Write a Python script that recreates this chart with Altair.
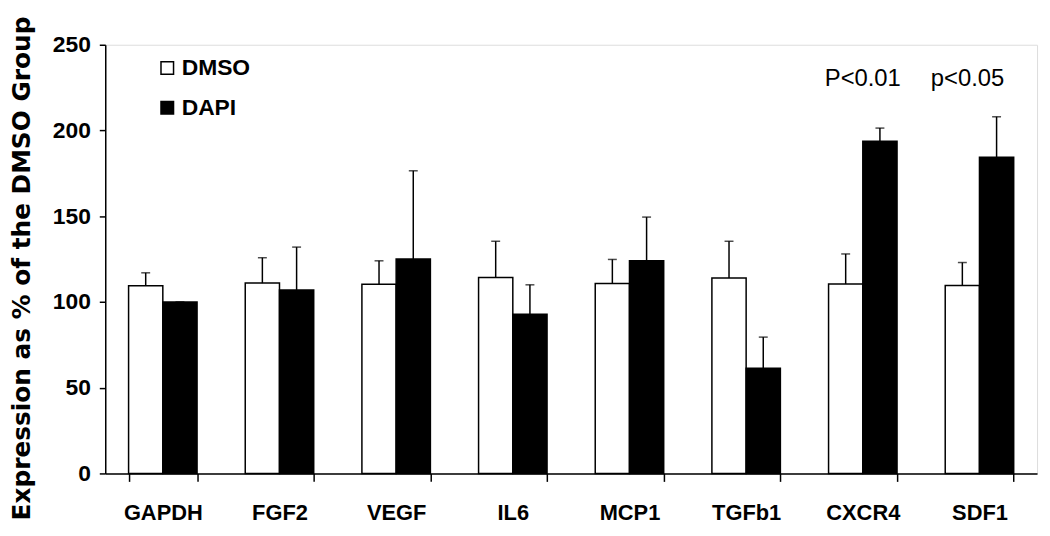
import altair as alt
import pandas as pd

genes = ["GAPDH", "FGF2", "VEGF", "IL6", "MCP1", "TGFb1", "CXCR4", "SDF1"]
groups = ["DMSO", "DAPI"]
dmso = [109.5, 111, 110.3, 114.2, 110.7, 114, 110.5, 109.6]
dmso_err = [117, 125.8, 124, 135.4, 124.8, 135.4, 128, 123]
dapi = [100, 107, 125, 92.8, 124, 61.3, 193.7, 184.4]
dapi_err = [100, 132, 176.5, 110, 149.5, 79.5, 201.4, 208]
annot_text = ["P<0.01", "p<0.05"]
annot_gene = ["CXCR4", "SDF1"]
annot_y = [230, 230]

rows = []
for i, g in enumerate(genes):
    rows.append({"gene": g, "group": "DMSO", "value": dmso[i], "err": dmso_err[i]})
    rows.append({"gene": g, "group": "DAPI", "value": dapi[i], "err": dapi_err[i]})
df = pd.DataFrame(rows)

LBL = "Liberation Sans, Arial, sans-serif"

x = alt.X(
    "gene:N",
    sort=genes,
    scale=alt.Scale(paddingInner=0.413),
    axis=alt.Axis(
        title=None,
        labelAngle=0,
        labelFont=LBL,
        labelFontWeight="bold",
        labelFontSize=22,
        labelColor="black",
        labelPadding=21,
        tickBand="extent",
        tickSize=8,
        tickColor="black",
        tickWidth=1.5,
        domainColor="black",
        domainWidth=1.5,
    ),
)
xoff = alt.XOffset("group:N", sort=groups, scale=alt.Scale(domain=groups, paddingInner=0, paddingOuter=0))
y = alt.Y(
    "value:Q",
    scale=alt.Scale(domain=[0, 250], nice=False),
    axis=alt.Axis(
        title="Expression as % of the DMSO Group",
        titleFont="DejaVu Sans",
        titleFontWeight="bold",
        titleFontSize=25,
        titleColor="black",
        titleAngle=-90,
        titleX=-84,
        titleY=225,
        titleAlign="center",
        titleBaseline="middle",
        values=[0, 50, 100, 150, 200, 250],
        labelFont=LBL,
        labelFontWeight="bold",
        labelFontSize=23,
        labelColor="black",
        labelPadding=9,
        tickSize=6,
        tickColor="black",
        tickWidth=1.5,
        domainColor="black",
        domainWidth=1.5,
        grid=False,
    ),
)

bars = alt.Chart(df).mark_bar(stroke="black", strokeWidth=1.5).encode(
    x=x,
    xOffset=xoff,
    y=y,
    fill=alt.Fill(
        "group:N",
        sort=groups,
        scale=alt.Scale(domain=groups, range=["white", "black"]),
        legend=alt.Legend(
            title=None,
            orient="none",
            legendX=51,
            legendY=12,
            symbolType="square",
            symbolSize=160,
            symbolStrokeColor="black",
            symbolStrokeWidth=1.5,
            labelFont=LBL,
            labelFontWeight="bold",
            labelFontSize=23,
            labelColor="black",
            labelOffset=3,
            rowPadding=16,
        ),
    ),
)

rules = alt.Chart(df).mark_rule(color="black", strokeWidth=1.5).encode(
    x=alt.X("gene:N", sort=genes),
    xOffset=xoff,
    y="value:Q",
    y2="err:Q",
)

caps = alt.Chart(df).mark_tick(color="black", thickness=1.5, size=9, orient="horizontal").encode(
    x=alt.X("gene:N", sort=genes),
    xOffset=xoff,
    y="err:Q",
)

ann1 = alt.Chart(pd.DataFrame({"gene": annot_gene[:1], "y": annot_y[:1], "t": annot_text[:1]})).mark_text(
    font="Liberation Sans", fontSize=24, color="black", baseline="middle", align="center"
).encode(x=alt.X("gene:N", sort=genes), y="y:Q", text="t:N")
ann2 = alt.Chart(pd.DataFrame({"gene": annot_gene[1:], "y": annot_y[1:], "t": annot_text[1:]})).mark_text(
    font="Liberation Sans", fontSize=24, color="black", baseline="middle", align="center", dx=-12
).encode(x=alt.X("gene:N", sort=genes), y="y:Q", text="t:N")

chart = alt.layer(bars, rules, caps, ann1, ann2).properties(
    width=939,
    height=432,
    autosize=alt.AutoSizeParams(type="none"),
    padding={"left": 98, "top": 35, "right": 5, "bottom": 60},
).configure_view(stroke=None).configure(background="white")

chart.save("out.html", embed_options={"renderer": "svg", "actions": False})
